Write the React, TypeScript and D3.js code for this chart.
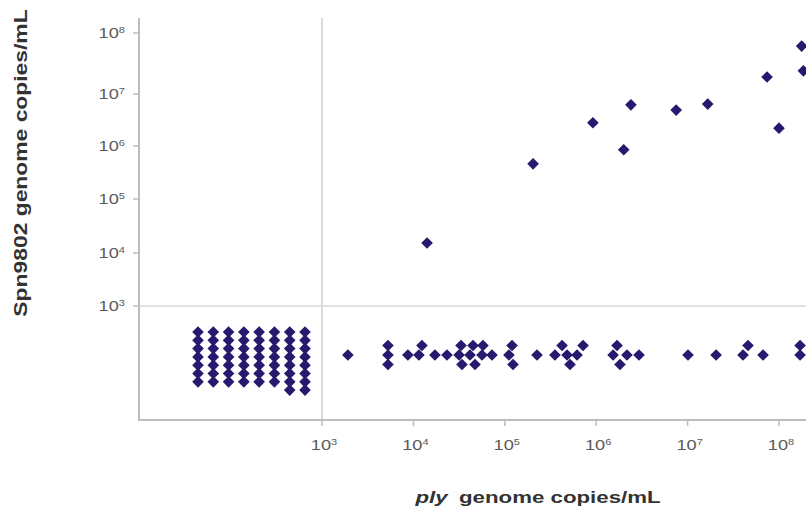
import React from 'react';
import * as d3 from 'd3';

const W = 806;
const H = 509;

// tick values on both log axes
const xTicks = [1e3, 1e4, 1e5, 1e6, 1e7, 1e8];
const yTicks = [1e3, 1e4, 1e5, 1e6, 1e7, 1e8];

// both targets quantified
const bothPly = [1.41e4, 2.04e5, 9.2e5, 2.0e6, 2.4e6, 7.5e6, 1.66e7, 7.4e7, 1.0e8, 1.77e8, 1.85e8];
const bothSpn = [1.53e4, 4.6e5, 2.8e6, 8.5e5, 6.2e6, 4.9e6, 6.4e6, 1.9e7, 2.2e6, 6.1e7, 2.4e7];

// ply quantified, Spn9802 below 10^3
const plyOnly = [
  1.92e3, 5.27e3, 5.27e3, 5.27e3, 8.7e3, 1.15e4, 1.24e4, 1.72e4, 2.33e4, 3.16e4,
  3.32e4, 3.4e4, 4.16e4, 4.49e4, 4.72e4, 5.63e4, 5.77e4, 7.24e4, 1.11e5, 1.2e5,
  1.23e5, 2.25e5, 3.54e5, 4.23e5, 4.8e5, 5.17e5, 6.17e5, 7.18e5, 1.53e6, 1.69e6,
  1.82e6, 2.17e6, 2.94e6, 1.01e7, 2.05e7, 4.04e7, 4.58e7, 6.69e7, 1.7e8, 1.7e8,
];

// neither target quantified: samples per column of the lower-left block
const neitherColumns = [7, 7, 7, 7, 7, 7, 8, 8];

const dotColor = '#261a6e';
const axisColor = '#bdbdbd';
const gridColor = '#d9d9d9';
const tickText = '#5a5a5a';

const x = d3.scaleLog().domain([1e3, 1e8]).range([322, 779]);
const y = d3.scaleLog().domain(yTicks).range([306, 253, 199, 146, 94, 33]);

const left = 139;
const top = 18;
const bottom = 420;
const bandY = 355;

const diamond = d3.symbol(d3.symbolSquare, 68)() as string;

function swarm(values: number[], step: number, gap: number) {
  const placed: [number, number][] = [];
  const sorted = [...values].sort((a, b) => a - b);
  for (const v of sorted) {
    const px = x(v);
    for (let k = 0; k < 12; k++) {
      const off = k === 0 ? 0 : (k % 2 ? -1 : 1) * Math.ceil(k / 2) * step;
      const py = bandY + off;
      if (placed.every(([qx, qy]) => Math.hypot(qx - px, qy - py) >= gap)) {
        placed.push([px, py]);
        break;
      }
    }
  }
  return placed;
}

const Dot = ({ cx, cy }: { cx: number; cy: number }) => (
  <path d={diamond} transform={`translate(${cx},${cy}) rotate(45)`} fill={dotColor} />
);

const Pow = ({ v }: { v: number }) => (
  <>
    10<tspan fontSize={8.5} dy={-5}>{Math.round(Math.log10(v))}</tspan>
  </>
);

export default function App() {
  const colX = d3.scalePoint<number>().domain(d3.range(neitherColumns.length)).range([198, 305]);
  const rowY = d3.scaleLinear().domain([0, 1]).range([332, 340.3]);
  const neither: [number, number][] = [];
  neitherColumns.forEach((n, i) => {
    for (let r = 0; r < n; r++) neither.push([colX(i)!, rowY(r)]);
  });
  const swarmPts = swarm(plyOnly, 9.5, 9.5);

  return (
    <svg width={W} height={H} style={{ position: 'absolute', left: 0, top: 0, display: 'block' }}
      fontFamily="'Liberation Sans', Arial, sans-serif">
      <rect width={W} height={H} fill="#fff" />

      {/* detection-limit lines */}
      <line x1={left} x2={W} y1={y(1e3)} y2={y(1e3)} stroke={gridColor} strokeWidth={1.5} />
      <line x1={x(1e3)} x2={x(1e3)} y1={top} y2={bottom} stroke={gridColor} strokeWidth={2} />

      {/* axes */}
      <line x1={left} x2={left} y1={top} y2={bottom} stroke={axisColor} strokeWidth={2} />
      <line x1={left - 1} x2={W} y1={bottom} y2={bottom} stroke={axisColor} strokeWidth={2} />

      {yTicks.map(t => (
        <g key={'y' + t}>
          <line x1={left - 6} x2={left} y1={y(t)} y2={y(t)} stroke={axisColor} strokeWidth={1.5} />
          <text transform={`translate(125,${y(t) + 5}) scale(1.3,1)`} textAnchor="end" fontSize={14}
            fill={tickText}>
            <Pow v={t} />
          </text>
        </g>
      ))}

      {xTicks.map(t => (
        <g key={'x' + t}>
          <line x1={x(t)} x2={x(t)} y1={bottom} y2={bottom + 6} stroke={axisColor} strokeWidth={1.5} />
          <text transform={`translate(${x(t) + 2},450) scale(1.3,1)`} textAnchor="middle" fontSize={14}
            fill={tickText}>
            <Pow v={t} />
          </text>
        </g>
      ))}

      {neither.map(([cx, cy], i) => <Dot key={'n' + i} cx={cx} cy={cy} />)}
      {swarmPts.map(([cx, cy], i) => <Dot key={'p' + i} cx={cx} cy={cy} />)}
      {bothPly.map((v, i) => <Dot key={'b' + i} cx={x(v)} cy={y(bothSpn[i])} />)}

      <text transform="translate(27,163) rotate(-90) scale(1.27,1)" textAnchor="middle" fontSize={18}
        fontWeight="bold" fill="#333">
        Spn9802 genome copies/mL
      </text>
      <text transform="translate(538,503) scale(1.31,1)" textAnchor="middle" fontSize={17}
        fontWeight="bold" fill="#333">
        <tspan fontStyle="italic">ply</tspan>
        <tspan dx={4}> genome copies/mL</tspan>
      </text>
    </svg>
  );
}
